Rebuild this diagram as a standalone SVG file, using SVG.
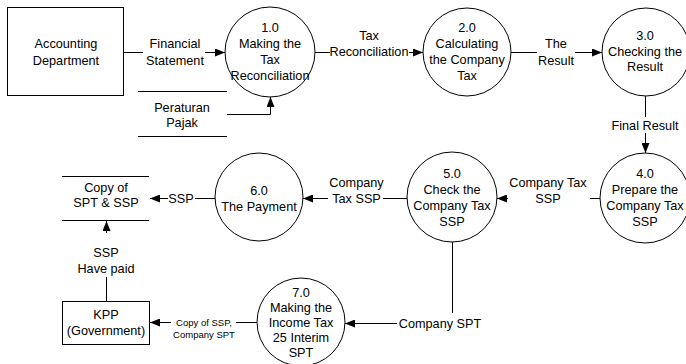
<svg xmlns="http://www.w3.org/2000/svg" width="686" height="364" viewBox="0 0 686 364">
<style>
text{font-family:"Liberation Sans",Arial,sans-serif;font-size:12.7px;fill:#000;text-anchor:middle}
.s{font-size:9.5px}
.n{fill:#fff;stroke:#000;stroke-width:1}
.c{fill:none;stroke:#000;stroke-width:1}
</style>
<defs>
<marker id="a" viewBox="0 0 10 8" refX="10" refY="4" markerWidth="10" markerHeight="8" markerUnits="userSpaceOnUse" orient="auto"><path d="M0,0L10,4L0,8z" fill="#000"/></marker>
</defs>
<rect width="686" height="364" fill="#fff"/>
<g id="connectors">
<g id="c1"><path class="c" d="M124,52.5H143"/><path class="c" d="M205,52.5H225" marker-end="url(#a)"/><text x="175" y="47.5">Financial</text><text x="175" y="64.5">Statement</text></g>
<g id="c2"><path class="c" d="M227,114.5H270.5V97" marker-end="url(#a)"/></g>
<g id="c3"><path class="c" d="M315,52.5H330"/><path class="c" d="M409,52.5H423" marker-end="url(#a)"/><text x="369" y="39.5">Tax</text><text x="369" y="56">Reconciliation</text></g>
<g id="c4"><path class="c" d="M511,52.5H537"/><path class="c" d="M575,52.5H602" marker-end="url(#a)"/><text x="556" y="47.5">The</text><text x="556" y="64.5">Result</text></g>
<g id="c5"><path class="c" d="M645.5,96V117"/><path class="c" d="M645.5,133V153" marker-end="url(#a)"/><text x="645" y="129.5">Final Result</text></g>
<g id="c6"><path class="c" d="M601,198.5H590"/><path class="c" d="M508,198.5H497" marker-end="url(#a)"/><text x="548" y="186.5">Company Tax</text><text x="548" y="202.5">SSP</text></g>
<g id="c7"><path class="c" d="M407,198.5H383"/><path class="c" d="M328,198.5H303" marker-end="url(#a)"/><text x="356.5" y="186.5">Company</text><text x="356.5" y="202.5">Tax SSP</text></g>
<g id="c8"><path class="c" d="M215,198.5H195"/><path class="c" d="M168,198.5H150" marker-end="url(#a)"/><text x="181" y="202.5">SSP</text></g>
<g id="c9"><path class="c" d="M106.5,301V277"/><path class="c" d="M106.5,233V221" marker-end="url(#a)"/><text x="106" y="256.5">SSP</text><text x="106" y="272.5">Have paid</text></g>
<g id="c10"><path class="c" d="M257,322.5H236"/><path class="c" d="M171,322.5H150" marker-end="url(#a)"/><text class="s" x="204" y="325.5">Copy of SSP,</text><text class="s" x="204" y="337.5">Company SPT</text></g>
<g id="c11"><path class="c" d="M452.5,242V313"/><path class="c" d="M397,323.5H345" marker-end="url(#a)"/><text x="440" y="327.5">Company SPT</text></g>
</g>
<g id="accounting"><rect class="n" x="7.5" y="7.5" width="116" height="88"/><text x="66" y="47.5">Accounting</text><text x="66" y="65">Department</text></g>
<g id="p1"><circle class="n" cx="270" cy="52" r="45"/><text x="270" y="31.5">1.0</text><text x="270" y="47.5">Making the</text><text x="270" y="63.5">Tax</text><text x="270" y="79.5">Reconciliation</text></g>
<g id="p2"><circle class="n" cx="467" cy="52" r="44"/><text x="467" y="31.5">2.0</text><text x="467" y="47.5">Calculating</text><text x="467" y="63.5">the Company</text><text x="467" y="79.5">Tax</text></g>
<g id="p3"><circle class="n" cx="646" cy="52" r="44"/><text x="645" y="39.5">3.0</text><text x="645" y="55.5">Checking the</text><text x="645" y="71">Result</text></g>
<g id="p4"><circle class="n" cx="645" cy="198" r="45"/><text x="645" y="178">4.0</text><text x="645" y="194">Prepare the</text><text x="645" y="210">Company Tax</text><text x="645" y="226">SSP</text></g>
<g id="p5"><circle class="n" cx="452" cy="197" r="45"/><text x="452" y="178">5.0</text><text x="452" y="194">Check the</text><text x="452" y="210">Company Tax</text><text x="452" y="226">SSP</text></g>
<g id="p6"><circle class="n" cx="259" cy="197" r="44"/><text x="259" y="194.5">6.0</text><text x="259" y="210.5">The Payment</text></g>
<g id="p7"><circle class="n" cx="301" cy="322" r="44"/><text x="301" y="296.5">7.0</text><text x="301" y="311.5">Making the</text><text x="301" y="326.5">Income Tax</text><text x="301" y="341.5">25 Interim</text><text x="301" y="356.5">SPT</text></g>
<g id="store-peraturan"><path class="c" d="M138,91.5H227M138,136.5H227"/><text x="182" y="111.5">Peraturan</text><text x="182" y="126.5">Pajak</text></g>
<g id="store-copy"><path class="c" d="M62,176.5H149M62,220.5H149"/><text x="106" y="191.5">Copy of</text><text x="106" y="206.5">SPT &amp; SSP</text></g>
<g id="kpp"><rect class="n" x="62.5" y="301.5" width="87" height="43"/><text x="106" y="318.5">KPP</text><text x="106" y="334.5">(Government)</text></g>
</svg>
